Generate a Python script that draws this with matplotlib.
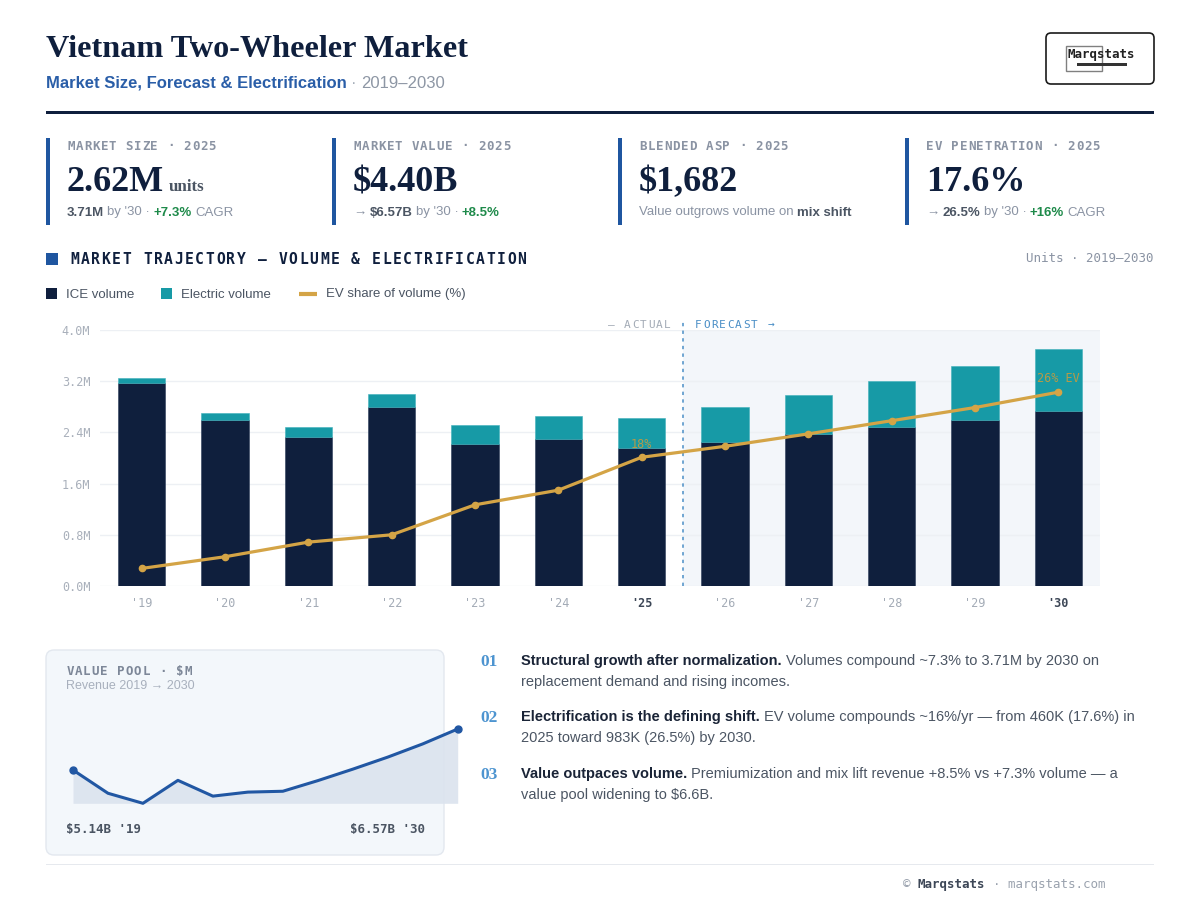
"""
Vietnam two-wheeler market dashboard: KPI strip, stacked volume bars with
EV share line, value pool sparkline and three takeaways.
"""
import numpy as np
import matplotlib
matplotlib.use("Agg")
import matplotlib.pyplot as plt
from matplotlib.patches import Rectangle, FancyBboxPatch

# ── data ────────────────────────────────────────────────────────────
YEARS = ["'19", "'20", "'21", "'22", "'23", "'24", "'25",
         "'26", "'27", "'28", "'29", "'30"]
ICE_VOL = [3.17, 2.59, 2.33, 2.79, 2.22, 2.30, 2.16, 2.25, 2.38, 2.48, 2.59, 2.73]   # M units
EV_VOL = [0.08, 0.12, 0.15, 0.21, 0.29, 0.35, 0.46, 0.55, 0.61, 0.72, 0.85, 0.98]    # M units
EV_SHARE = [2.4, 4.0, 6.0, 7.0, 11.1, 13.1, 17.6, 19.1, 20.8, 22.6, 24.4, 26.5]     # %
REVENUE = [5140, 4330, 3980, 4780, 4230, 4370, 4400, 4770, 5170, 5590, 6050, 6570]  # $M

YTICKS = [0.0, 0.8, 1.6, 2.4, 3.2, 4.0]
YTICK_LABELS = ["0.0M", "0.8M", "1.6M", "2.4M", "3.2M", "4.0M"]
FORECAST_START = 6.5   # between '25 and '26
BOLD_YEARS = ["'25", "'30"]

KPI_LABELS = ["MARKET SIZE · 2025", "MARKET VALUE · 2025",
              "BLENDED ASP · 2025", "EV PENETRATION · 2025"]
KPI_VALUES = ["2.62M", "$4.40B", "$1,682", "17.6%"]

# ── style ───────────────────────────────────────────────────────────
NAVY = "#0f1f3d"
BLUE = "#1f56a0"
TEAL = "#179aa6"
GOLD = "#d4a446"
GREEN = "#1e8a4a"
DARK = "#3d4757"
GRAY = "#8a93a3"
LIGHT = "#a7afba"
FC_BLUE = "#4a8ec6"
SERIF = "Liberation Serif"
SANS = ["Liberation Sans", "DejaVu Sans"]
MONO = "DejaVu Sans Mono"

W, H = 1200, 917
fig = plt.figure(figsize=(W / 100, H / 100), dpi=100)
fig.patch.set_facecolor("white")

# full-figure pixel canvas for text and decoration
bg = fig.add_axes([0, 0, 1, 1], zorder=-1)
bg.set_xlim(0, W)
bg.set_ylim(H, 0)
bg.axis("off")


def px_rect(x0, y0, x1, y1):
    return [x0 / W, 1 - y1 / H, (x1 - x0) / W, (y1 - y0) / H]


def spaced(x, y, s, pitch, size, color, weight="normal", right=False):
    if right:
        x = x - len(s) * pitch
    for i, ch in enumerate(s):
        bg.text(x + (i + 0.5) * pitch, y, ch, ha="center", va="center",
                fontsize=size, color=color, fontweight=weight, family=MONO)


def runs(x, y, parts, size, family=SANS, gap=None):
    """Chain text pieces on one baseline: parts = [(text, color, weight)]."""
    if gap is None:
        gap = 0.28 * size
    s, c, w = parts[0]
    t = bg.text(x, y, s, color=c, fontweight=w, fontsize=size,
                family=family, va="baseline", ha="left")
    for s, c, w in parts[1:]:
        t = bg.annotate(s, xy=(1, y), xycoords=(t, bg.transData),
                        xytext=(gap, 0), textcoords="offset points",
                        color=c, fontweight=w, fontsize=size,
                        family=family, va="baseline", ha="left")
    return t


# ── header ──────────────────────────────────────────────────────────
bg.text(46, 57, "Vietnam Two-Wheeler Market", fontsize=23.2, fontweight="bold",
        family=SERIF, color=NAVY, va="baseline")
runs(46, 88, [("Market Size, Forecast & Electrification", "#2a5ea8", "bold"),
              ("·", LIGHT, "normal"), ("2019–2030", "#8d96a4", "normal")], 12)
bg.add_patch(Rectangle((46, 110.5), 1108, 3.5, color=NAVY, lw=0))

# logo
bg.add_patch(FancyBboxPatch((1046, 33), 108, 51, boxstyle="round,pad=0,rounding_size=5",
                            fc="white", ec="#1a1a1a", lw=1.2))
bg.add_patch(Rectangle((1066, 45.5), 36, 25.5, fc="none", ec="#808080", lw=1))
bg.text(1068, 54.5, "Marqstats", fontsize=9, family=MONO, fontweight="bold",
        color="#222222", va="center")
bg.add_patch(Rectangle((1077, 62.5), 50, 3.2, color="#333333", lw=0))

# ── KPI strip ───────────────────────────────────────────────────────
KPI_X = [46, 332, 618, 905]
for i, x in enumerate(KPI_X):
    bg.add_patch(Rectangle((x, 138), 3.5, 87, color=BLUE, lw=0))
    spaced(x + 21, 146, KPI_LABELS[i], 8.3, 9, GRAY, weight="bold")

v = runs(67, 191, [(KPI_VALUES[0], NAVY, "bold")], 26, family=SERIF)
bg.annotate("units", xy=(1, 191), xycoords=(v, bg.transData), xytext=(3.3, 0),
            textcoords="offset points", fontsize=12.2, fontweight="bold",
            family=SERIF, color="#4b5563", va="baseline")
for i in range(1, 4):
    bg.text(KPI_X[i] + 21, 191, KPI_VALUES[i], fontsize=26, fontweight="bold",
            family=SERIF, color=NAVY, va="baseline")

SUB = [
    [("3.71M", "#4b5563", "bold"), ("by '30 ·", GRAY, "normal"),
     ("+7.3%", GREEN, "bold"), ("CAGR", GRAY, "normal")],
    [("→", GRAY, "normal"), ("$6.57B", "#4b5563", "bold"),
     ("by '30 ·", GRAY, "normal"), ("+8.5%", GREEN, "bold")],
    [("Value outgrows volume on", GRAY, "normal"), ("mix shift", "#4b5563", "bold")],
    [("→", GRAY, "normal"), ("26.5%", "#4b5563", "bold"),
     ("by '30 ·", GRAY, "normal"), ("+16%", GREEN, "bold"), ("CAGR", GRAY, "normal")],
]
for x, parts in zip(KPI_X, SUB):
    runs(x + 21, 215.5, parts, 9.5, gap=2.4)

# ── section header + legend ─────────────────────────────────────────
bg.add_patch(Rectangle((45.5, 253), 12, 12, color=BLUE, lw=0))
spaced(69.5, 259.5, "MARKET TRAJECTORY — VOLUME & ELECTRIFICATION", 10.4, 10.5,
       NAVY, weight="bold")
bg.text(1154, 258, "Units · 2019–2030", fontsize=9, family=MONO, color=GRAY,
        ha="right", va="center")

bg.add_patch(Rectangle((46, 288), 11, 11, color=NAVY, lw=0))
bg.text(66, 295, "ICE volume", fontsize=9.5, family=SANS, color="#4b5563", va="center")
bg.add_patch(Rectangle((161, 288), 11, 11, color=TEAL, lw=0))
bg.text(181, 295, "Electric volume", fontsize=9.5, family=SANS, color="#4b5563", va="center")
bg.plot([299, 317], [293.5, 293.5], color=GOLD, lw=3, solid_capstyle="butt")
bg.text(326, 294, "EV share of volume (%)", fontsize=9.5, family=SANS,
        color="#4b5563", va="center")

# ── main chart ──────────────────────────────────────────────────────
ax = fig.add_axes(px_rect(100, 330, 1100, 586))
ax.set_facecolor("none")
x = np.arange(len(YEARS))
ax.axvspan(FORECAST_START, len(YEARS) - 0.5, color="#f3f6fa", lw=0, zorder=0)
ax.bar(x, ICE_VOL, width=0.565, color=NAVY, edgecolor="#2a3a58", lw=0.4, zorder=2)
ax.bar(x, EV_VOL, bottom=ICE_VOL, width=0.565, color=TEAL, edgecolor="#3fb1bb",
       lw=0.4, zorder=2)
ax.set_xlim(-0.5, len(YEARS) - 0.5)
ax.set_ylim(0, 4.0)
ax.set_yticks(YTICKS)
ax.set_yticklabels(YTICK_LABELS, family=MONO, fontsize=8.5, color="#a9b0bb")
ax.set_xticks(x)
ax.set_xticklabels(YEARS, family=MONO, fontsize=8.5, color="#a3abb6")
for lab in ax.get_xticklabels():
    if lab.get_text() in BOLD_YEARS:
        lab.set_fontweight("bold")
        lab.set_color(DARK)
ax.tick_params(axis="y", length=0, pad=7)
ax.tick_params(axis="x", length=0, pad=8)
ax.yaxis.grid(True, color="#edf0f4", lw=1)
ax.set_axisbelow(True)
for sp in ax.spines.values():
    sp.set_visible(False)
ax.axvline(FORECAST_START, ymin=0, ymax=1.031, color=FC_BLUE, lw=1.1,
           ls=(0, (2.2, 2.8)), clip_on=False, zorder=3)

ax2 = ax.twinx()
ax2.set_ylim(0, 35)
ax2.plot(x, EV_SHARE, color=GOLD, lw=2.3, marker="o", ms=4.5, zorder=4)
ax2.axis("off")
ax2.annotate("18%", (6, EV_SHARE[6]), xytext=(0, 9.5), textcoords="offset points",
             ha="center", va="center", fontsize=8.5, family=MONO, color="#c99a3c", alpha=0.9)
ax2.annotate("26% EV", (11, EV_SHARE[11]), xytext=(0, 9.5), textcoords="offset points",
             ha="center", va="center", fontsize=8.5, family=MONO, color="#c99a3c", alpha=0.9)

spaced(671, 325, "— ACTUAL", 7.9, 8, "#a3abb6", right=True)
spaced(694.5, 325, "FORECAST →", 8.0, 8, FC_BLUE)

# ── value pool card ─────────────────────────────────────────────────
bg.add_patch(FancyBboxPatch((46, 650), 398, 205, boxstyle="round,pad=0,rounding_size=8",
                            fc="#f3f7fb", ec="#e3e8ef", lw=1))
spaced(65.7, 671.5, "VALUE POOL · $M", 8.45, 9, "#7d8798", weight="bold")
bg.text(66, 686, "Revenue 2019 → 2030", fontsize=9, family=SANS, color="#a8b0bd",
        va="center")
bg.text(66, 830, "$5.14B '19", fontsize=9, family=MONO, fontweight="bold",
        color="#4b5563", va="center")
bg.text(425, 830, "$6.57B '30", fontsize=9, family=MONO, fontweight="bold",
        color="#4b5563", va="center", ha="right")

ax3 = fig.add_axes(px_rect(73, 729, 457.7, 803.3))
ax3.set_facecolor("none")
xs = np.arange(len(REVENUE))
lo, hi = min(REVENUE), max(REVENUE)
ax3.fill_between(xs, REVENUE, lo, color="#dbe3ee", alpha=0.9, lw=0)
ax3.plot(xs, REVENUE, color="#2157a3", lw=2.2, solid_joinstyle="round", clip_on=False)
ax3.plot([xs[0], xs[-1]], [REVENUE[0], REVENUE[-1]], "o", color="#2157a3", ms=5,
         clip_on=False)
ax3.set_xlim(0, len(REVENUE) - 1)
ax3.set_ylim(lo, hi)
ax3.axis("off")

# ── takeaways ───────────────────────────────────────────────────────
TAKEAWAYS = [
    ("01", "Structural growth after normalization.",
     "Volumes compound ~7.3% to 3.71M by 2030 on",
     "replacement demand and rising incomes."),
    ("02", "Electrification is the defining shift.",
     "EV volume compounds ~16%/yr — from 460K (17.6%) in",
     "2025 toward 983K (26.5%) by 2030."),
    ("03", "Value outpaces volume.",
     "Premiumization and mix lift revenue +8.5% vs +7.3% volume — a",
     "value pool widening to $6.6B."),
]
TAKE_Y = [665.5, 721.5, 778]
for (num, lead, rest, line2), y in zip(TAKEAWAYS, TAKE_Y):
    bg.text(480.5, y + 1, num, fontsize=12.5, fontweight="bold", family=SERIF,
            color="#4d94d0", va="baseline")
    runs(521, y, [(lead, "#1a2437", "bold"), (rest, "#4b5563", "normal")], 10.5)
    bg.text(521, y + 20.5, line2, fontsize=10.5, family=SANS, color="#4b5563",
            va="baseline")

# ── footer ──────────────────────────────────────────────────────────
bg.add_patch(Rectangle((46, 864), 1108, 1, color="#e6e9ee", lw=0))
runs(903, 888, [("©", "#9aa2ae", "normal"), ("Marqstats", DARK, "bold"),
                ("· marqstats.com", "#9aa2ae", "normal")], 9, family=MONO, gap=5.4)

fig.savefig("out.png", dpi=100)
